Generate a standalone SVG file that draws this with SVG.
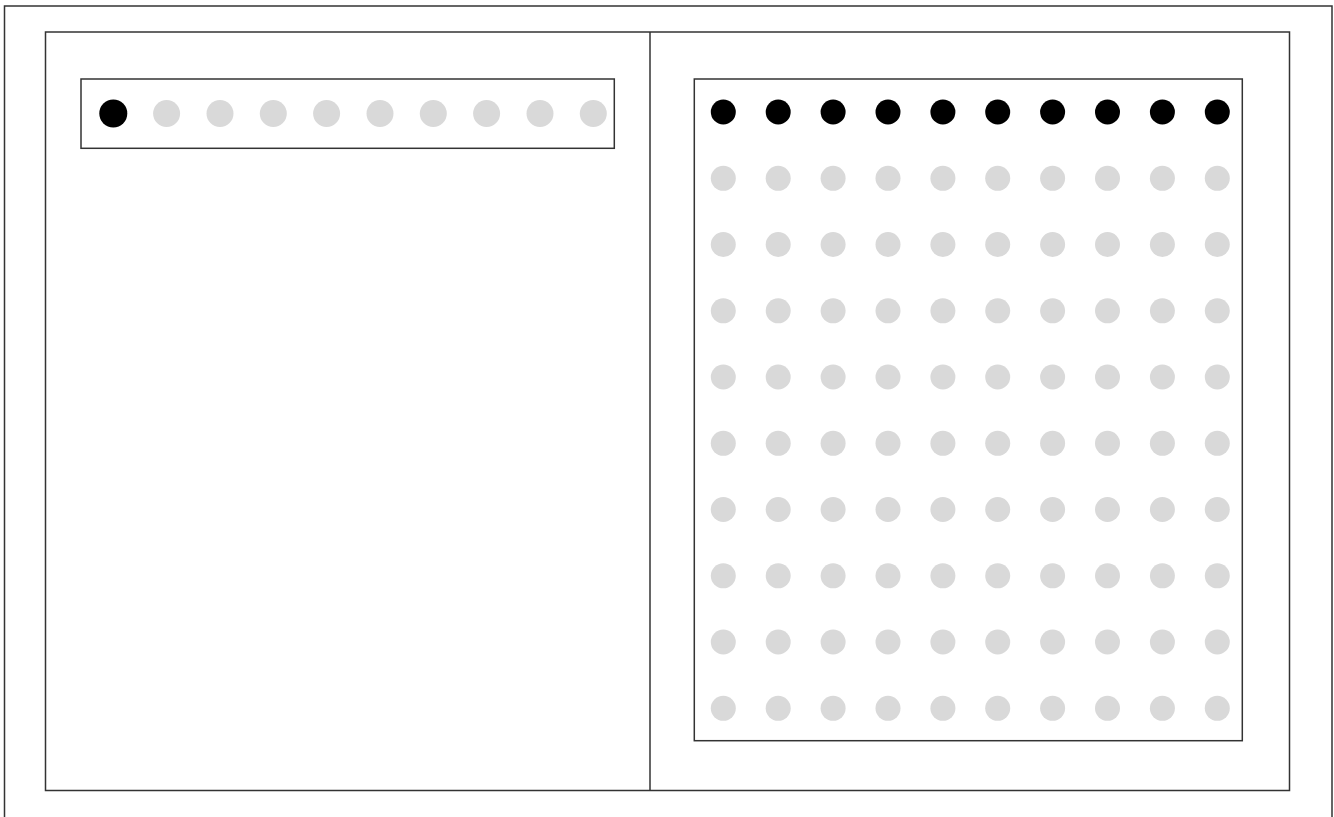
<svg xmlns="http://www.w3.org/2000/svg" width="1334" height="817" viewBox="0 0 1334 817">
<style>
.frame{fill:none;stroke:#333;stroke-width:1.5}
.on{fill:#000}
.off{fill:#d9d9d9}
</style>
<defs>
<g id="rowL">
<circle class="off" cx="166.6" cy="0" r="13.5"/><circle class="off" cx="220" cy="0" r="13.5"/><circle class="off" cx="273.3" cy="0" r="13.5"/><circle class="off" cx="326.6" cy="0" r="13.5"/><circle class="off" cx="380" cy="0" r="13.5"/><circle class="off" cx="433.3" cy="0" r="13.5"/><circle class="off" cx="486.6" cy="0" r="13.5"/><circle class="off" cx="540" cy="0" r="13.5"/><circle class="off" cx="593.3" cy="0" r="13.5"/>
</g>
<g id="rowR">
<circle cx="723.3" cy="0" r="12.5"/><circle cx="778.2" cy="0" r="12.5"/><circle cx="833.1" cy="0" r="12.5"/><circle cx="888" cy="0" r="12.5"/><circle cx="942.9" cy="0" r="12.5"/><circle cx="997.7" cy="0" r="12.5"/><circle cx="1052.6" cy="0" r="12.5"/><circle cx="1107.5" cy="0" r="12.5"/><circle cx="1162.4" cy="0" r="12.5"/><circle cx="1217.3" cy="0" r="12.5"/>
</g>
</defs>
<rect width="1334" height="817" fill="#fff"/>
<path class="frame" d="M4.5,820 V6 H1332 V820"/>
<rect class="frame" x="45.5" y="32" width="1244" height="758.5"/>
<line class="frame" x1="650" y1="32" x2="650" y2="790.5"/>
<g id="left-panel">
<rect class="frame" x="81" y="79" width="533.3" height="69.3"/>
<circle class="on" cx="113.3" cy="113.5" r="14"/>
<use href="#rowL" y="113.5"/>
</g>
<g id="right-panel">
<rect class="frame" x="694.3" y="79" width="548" height="661.7"/>
<use href="#rowR" y="112" fill="#000"/>
<g fill="#d9d9d9">
<use href="#rowR" y="178.3"/>
<use href="#rowR" y="244.5"/>
<use href="#rowR" y="310.8"/>
<use href="#rowR" y="377"/>
<use href="#rowR" y="443.3"/>
<use href="#rowR" y="509.5"/>
<use href="#rowR" y="575.8"/>
<use href="#rowR" y="642"/>
<use href="#rowR" y="708.3"/>
</g>
</g>
<g id="connectors"/>
</svg>
